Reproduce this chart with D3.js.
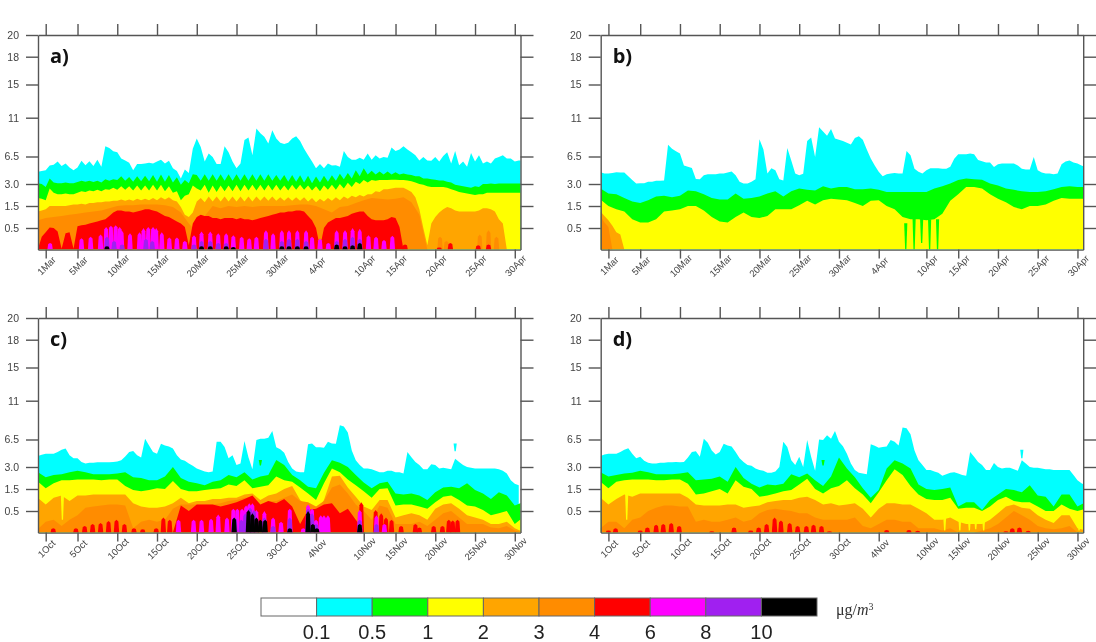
<!DOCTYPE html>
<html>
<head>
<meta charset="utf-8">
<style>
  html, body { margin: 0; background: #fff; }
  svg { display: block; filter: blur(0.35px); }
  .axis path, .axis line { stroke: #555; stroke-width: 1.4px; }
  .axis text { fill: #444; font-family: "Liberation Sans", sans-serif; }
</style>
<script src="https://cdn.jsdelivr.net/npm/d3@7"></script>
</head>
<body>
<div id="chart"></div>
<script>
// heights in km, day 0 is the first of the month, every array starts at day -1 unless noted
var heightTicks = [0.5, 1.5, 3, 6.5, 11, 15, 18, 20];
var heightLabels = ["0.5", "1.5", "3.0", "6.5", "11", "15", "18", "20"];
var tickDays = [0, 4, 9, 14, 19, 24, 29, 34, 40, 44, 49, 54, 59];
var springLabels = ["1Mar", "5Mar", "10Mar", "15Mar", "20Mar", "25Mar", "30Mar", "4Apr", "10Apr", "15Apr", "20Apr", "25Apr", "30Apr"];
var autumnLabels = ["1Oct", "5Oct", "10Oct", "15Oct", "20Oct", "25Oct", "30Oct", "4Nov", "10Nov", "15Nov", "20Nov", "25Nov", "30Nov"];
var levelColors = ["#ffffff", "#00ffff", "#00ff00", "#ffff00", "#ffa500", "#ff8c00", "#ff0000", "#ff00ff", "#a020f0", "#000000"];
var levelLabels = ["0.1", "0.5", "1", "2", "3", "4", "6", "8", "10"];

// panel a, half day steps
var aCyan = [4.55,4.65,4.75,5.35,5.45,5.85,5.3,5.6,5.1,4.75,5.1,5.95,5.4,5.9,5.3,6.1,5.2,7.7,7.5,7.1,7,6.25,6,5.7,4.75,5.55,5.55,5.6,5.7,5.6,5.85,6.1,5.6,5.95,5,4.65,3.7,4.85,4.4,7.4,8.6,7.6,5.85,6.85,6.45,5.55,5.55,7.7,7,5.85,5,5.6,8.4,8.7,6.65,9.75,9.2,8.8,8,9.55,8.6,8.1,7.95,8.1,8.6,8.85,8.3,7.4,6.65,5.85,5,5.55,5,5.6,5.35,5.4,5.2,7.15,6.45,6.1,6.1,6.35,6.1,6.85,6.1,6.65,6.25,6.45,6.35,7.55,7.15,7.3,7.7,7.3,7,6.65,6,6.45,6,5.95,6.45,5.85,6.55,7,5.6,7.15,5.4,5.85,5.2,6.9,5.85,6.65,5.6,5.85,5.6,6.25,6.45,6.65,6.25,6.25,5.85,6,6];
var aGreen = [3.1,3,2.8,3.7,3.2,3.1,3.1,3.2,3.1,3.1,3.25,3.4,3.3,3.4,3.25,3.4,3.2,3.6,3.4,3.6,3.5,4,3.4,3.9,3.3,4,3.35,4.05,3.35,4.15,3.3,4.2,3.3,4.15,3.2,3.85,2.95,3.5,3.1,4.25,4.15,3.4,4.25,3.4,4.25,3.4,4.25,3.4,4.25,3.4,4.25,3.4,4.25,3.4,4.25,3.4,4.25,3.4,4.25,3.4,4.15,3.4,4.15,3.3,4.15,3.3,4.1,3.2,4.05,3.1,3.95,3.2,4.05,3.3,4.1,3.4,4.3,3.6,4.4,3.7,4.75,4,5,4.2,4.7,4.2,4.6,4.2,4.6,4.2,4.5,4.2,4.35,4.2,4.15,4,4,3.7,3.7,3.6,3.55,3.45,3.45,3.3,3.2,2.95,2.9,2.85,2.8,2.75,2.85,2.8,3,3,3.05,3,3.05,3.05,3.05,3.05,3.05,3.05,3.05];
var aYellow = [2.05,2,1.9,2.7,2.4,2.3,2.3,2.35,2.3,2.3,2.4,2.5,2.45,2.55,2.5,2.6,2.5,2.65,2.6,2.75,2.6,2.85,2.6,2.85,2.55,2.9,2.55,2.9,2.55,2.95,2.55,2.95,2.5,2.85,2.4,2.5,1.9,2.2,2.3,2.9,2.7,2.55,2.95,2.4,2.9,2.45,2.9,2.5,2.9,2.5,2.95,2.5,2.95,2.55,2.95,2.55,2.95,2.55,2.95,2.55,2.95,2.55,2.9,2.55,2.95,2.6,2.95,2.6,2.9,2.55,2.85,2.5,2.9,2.6,2.95,2.6,3,2.7,3.15,2.8,3.3,3,3.5,3.2,3.5,3.4,3.5,3.5,3.5,3.55,3.55,3.5,3.5,3.45,3.35,3.2,3,2.95,2.85,2.8,2.8,2.8,2.8,2.75,2.65,2.55,2.45,2.4,2.35,2.3,2.25,2.3,2.3,2.4,2.4,2.4,2.4,2.4,2.4,2.4,2.4,2.4,2.4];
var aOrange = [1.25,1.3,1.35,1.5,1.5,1.5,1.5,1.5,1.55,1.6,1.6,1.65,1.6,1.7,1.7,1.75,1.75,1.8,1.8,1.85,1.85,1.95,1.85,1.95,1.85,2,1.9,2,1.9,2.05,1.9,2.1,1.95,2.1,1.9,1.8,1.45,1.1,1,1.2,1.8,2.05,1.75,2.15,1.8,2.15,1.8,2.15,1.8,2.15,1.8,2.15,1.8,2.15,1.8,2.15,1.85,2.15,1.85,2.15,1.85,2.1,1.85,2.1,1.85,2.1,1.85,2.1,1.8,2.05,1.75,2,1.8,2.05,1.85,2.1,1.9,2.15,2,2.2,2.1,2.25,2.15,2.3,2.3,2.5,2.45,2.65,2.65,2.7,2.75,2.75,2.75,2.6,2.45,2.1,1.35,0.5,0.1,0.7,1,1.2,1.35,1.45,1.4,1.3,1.25,1.25,1.25,1.25,1.25,1.3,1.4,1.4,1.35,1.25,0.9,0.7,0];
// whole day steps
var aDarkOrange = [0.85,0.95,1,1.05,1.1,1.15,1.2,1.25,1.3,1.4,1.5,1.55,1.55,1.6,1.6,1.6,1.55,1.45,1.2,0.7,0.4,1.05,1.5,1.4,1.5,1.45,1.5,1.45,1.5,1.5,1.5,1.5,1.55,1.6,1.6,1.5,1.35,1.2,1.45,1.5,1.7,1.9,2.05,2,1.95,2,2.1,1.75,1.1,0];
// half day steps
var aRed = [0,0.3,0.4,0.52,0.5,0.42,0.02,0.38,0.4,0.02,0.58,0.62,0.65,0.7,0.75,0.8,0.85,0.9,1.05,1.2,1.3,1.3,1.25,1.25,1.2,1.25,1.3,1.35,1.35,1.3,1.25,1.15,1.05,1,0.9,0.8,0.7,0.55,0.1,0.7,1,1.1,1.05,1.05,0.95,0.95,0.9,0.95,0.95,0.95,0.9,0.95,0.9,0.9,0.85,0.9,0.95,1,1.05,1.1,1.15,1.2,1.2,1.25,1.25,1.3,1.3,1.25,1.05,0.85,0.5,0.05,0.5,0.75,0.85,0.95,0.95,1,1.05,1.15,1.2,1.25,1.25,1.05,0.9,0.85,0.85,0.85,0.9,1,0.95,0.55,0];
var aDarkOrangeDays = [49.6, 50.4, 54.6, 55.7, 56.7];
var aDarkOrangeTops = [0.3, 0.2, 0.35, 0.45, 0.3];
var aRedDays = [45.2, 49.5, 50.9, 54.4, 55.7];
var aRedTops = [0.12, 0.05, 0.15, 0.1, 0.12];
var aMagentaDays = [0.55,4.5,5.65,6.9,7.6,8.2,8.8,9.3,9.55,10.6,11.8,12.3,12.9,13.5,13.9,14.6,15.55,16.5,17.5,18.65,19.6,20.7,21.7,22.7,23.6,24.65,25.6,26.5,27.7,28.6,29.7,30.6,31.65,32.75,33.5,34.5,35.55,36.6,37.65,38.6,39.5,40.6,41.55,42.55,43.6];
var aMagentaTops = [0.15,0.26,0.3,0.35,0.55,0.6,0.62,0.55,0.45,0.38,0.4,0.5,0.55,0.55,0.5,0.4,0.28,0.28,0.2,0.33,0.42,0.42,0.38,0.38,0.33,0.3,0.26,0.3,0.45,0.38,0.45,0.45,0.45,0.45,0.3,0.25,0.15,0.45,0.45,0.5,0.48,0.33,0.3,0.22,0.32];
var aPurpleDays = [7.7,8.6,9.6,12.6,13.4,18.65,19.6,20.7,21.7,22.7,27.7,29.7,30.6,31.65,32.75,36.6,37.65,38.6,39.5];
var aPurpleTops = [0.3,0.2,0.12,0.25,0.2,0.12,0.2,0.2,0.15,0.15,0.25,0.2,0.25,0.25,0.2,0.2,0.25,0.3,0.25];
var aBlackDays = [7.7,19.6,20.7,22.7,23.6,29.7,30.6,31.65,32.75,36.6,37.65,38.6,39.5];
var aBlackTops = [0.08,0.08,0.08,0.08,0.06,0.08,0.08,0.08,0.08,0.12,0.08,0.1,0.15];

// panel b
var bCyan = [4.5,4.35,4.35,4.4,4.5,4.45,4.45,4,3.5,3.05,3.1,3.1,3.3,3.3,3.4,3.4,3.45,7.85,7.4,7.1,6.85,5.35,5.2,5.05,3.65,3.6,4.1,4.25,4.25,4.25,4.35,4.35,4.45,4.6,4.1,3.3,3.05,3.05,3.3,3.6,8.5,7.3,4.35,5,4.75,3.6,3.45,7.5,6,4.35,4.1,4.3,8.3,8.7,6.45,9.9,9.4,8.9,9.7,8.6,8.45,8.3,8.1,7.9,8.65,8.85,8.45,7.3,6.25,5.35,4.55,4,4.25,4.35,4.4,4.35,4.35,7.15,6.65,4.95,4.55,4.35,4.75,5,5,5,4.95,4.95,5.2,6.2,6.75,6.75,6.75,6.85,6.75,6.05,5.9,5.75,5.75,5.15,5.5,5.6,5.6,5.6,5.6,5.35,4.95,4.85,4.85,6.45,4.75,4.45,4.35,4.35,4.25,4.35,5.5,5.85,6,5.75,5.6,5.35,5.15];
var bGreen = [2.7,2.35,2.3,2.05,1.8,1.7,1.9,2.15,2.2,2.1,2.2,2.55,2.5,2.3,2.05,1.95,1.95,2.35,2,2.05,2.15,2.35,2.5,2.15,2.5,2.7,2.6,2.55,2.85,2.7,2.8,2.8,2.65,2.65,2.7,2.6,2.45,2.45,2.45,2.45,2.45,2.45,2.7,2.85,3.05,3.5,3.7,3.6,3.55,3.05,2.9,2.7,2.6,2.5,2.45,2.45,2.5,2.65,2.8,2.85,2.8,2.8];
var bYellow = [1.95,1.5,1.35,1.25,0.9,0.75,0.75,0.9,1.25,1.3,1.35,1.5,1.5,1.3,1,0.8,0.75,1,1.2,1,0.95,1.05,1.35,1.35,1.35,1.55,1.85,1.6,1.9,2,1.95,1.9,1.7,1.5,1.85,1.9,1.5,1.35,1,0.9,0.9,0.85,0.9,1.15,1.85,2.3,2.8,2.8,2.7,2.3,2,1.75,1.45,1.35,1.5,1.5,1.6,1.85,2.05,2,2,2];
var bOrange = [1.25,1.05,0.85,0.6,0.4,0.35,0];
var bDarkOrange = [1.05,0.75,0.55,0];
var bStreakDays = [37.4, 38.45, 39.4, 40.4, 41.4];
var bStreakBases = [0, 0, 0.15, 0, 0];
var bStreakTops = [0.72, 0.95, 0.95, 0.9, 0.9];

// panel c
var cCyan = [4.4,4.55,4.7,4.7,4.7,4.9,5.2,5.35,4.5,4.1,4.1,3.65,3.45,3.55,3.55,3.6,3.6,3.6,3.6,3.65,3.7,3.85,4.35,4.9,5.05,4.5,4.2,6.6,5.75,4.9,4.7,5.95,5.75,5.6,5.35,4.5,3.95,3.8,3.45,3.15,2.9,2.8,2.7,2.65,2.7,6.2,6.2,5.55,4.1,4.5,3.25,3.45,6.3,4.25,2.85,6.45,6.6,6.6,6.7,7.5,5.5,5.25,4.8,3.65,2.9,2.7,2.65,2.65,5.9,6,5.5,5.5,5.45,6.2,6,5.95,8.15,8,7.3,5.1,3.85,3.25,2.9,2.9,2.85,2.75,2.65,2.65,2.75,2.75,2.65,2.65,2.55,4.9,4.25,3.65,3.25,2.85,2.85,3.35,3.25,2.9,2.95,2.9,2.85,4.05,3.65,3.25,3,2.95,2.9,2.9,2.9,2.9,2.9,2.9,2.85,2.75,2.55,2.1,1.85,1.75];
var cGreen = [2.65,2.3,2.45,2.5,2.65,2.75,2.65,2.5,2.5,2.5,2.55,2.65,2.3,2.25,2.1,2.1,2.35,3,2.25,2,1.9,1.75,2,2.1,2.45,2.3,2.65,2.15,2.35,2.45,3.9,3.25,2.45,2.1,1.65,1.55,2.6,3.85,3.55,3,2.45,1.95,1.55,1.9,2,1.3,1.25,1.3,1.2,1,1.35,1.6,1.65,1.55,1.9,1.45,1.3,1.05,1.35,1.2,0.75,0.9];
var cYellow = [2,1.55,1.9,2.1,2.1,2.15,2.15,2.15,2.1,2.15,2.15,1.7,1.45,1.4,1.45,1.55,1.5,2.05,1.5,1.4,1.4,1.45,1.5,1.55,1.8,1.7,2.1,1.55,1.65,1.75,2.35,2.1,2,1.6,1.3,1,1.9,2.9,2.65,2.15,1.75,1.4,1.1,1.5,1.55,0.75,0.8,0.8,0.7,0.6,0.9,1.15,1.2,1,0.75,0.7,0.55,0.4,0.45,0.5,0.2,0.35];
var cOrange = [1.1,0.8,1.1,1.2,0.95,1.2,1.2,1.25,1.25,1.25,1.25,1.25,0.85,0.7,0.65,0.65,0.7,0.85,1.1,0.85,0.95,0.95,1.05,1.05,1.1,1.1,1.25,1.3,1,1.2,1.3,1.5,1.7,1,0.7,0.45,1,2.35,2.4,1.6,1.15,0.7,0.55,1,1,0.35,0.4,0.45,0.4,0.3,0.6,0.8,0.85,0.6,0.4,0.35,0.3,0.2,0.2,0.25,0.1,0.02];
var cDarkOrange = [0.08,0.25,0.3,0.15,0.3,0.4,0.65,0.7,0.75,0.8,0.8,0.75,0.1,0.25,0.3,0.25,0.3,0.6,0.8,0.8,0.8,0.8,0.8,0.85,0.95,1,1.1,1.15,0.8,0.95,0.95,1.1,1.25,0.95,0.9,0.7,0.95,1.6,1.8,1.3,0.8,0.5,0.3,0.75,0.65,0.2,0.2,0.2,0.25,0.15,0.3,0.45,0.5,0.35,0.2,0.2,0.2,0.12,0.1,0.15,0.05,0];
// red plateau, starts at day 16
var cRed = [0,0.75,0.5,0.8,0.8,0.8,0.7,0.8,0.9,1.05,1.2,0.8,0.95,0.85,1.05,0.7,0.2,0.55,0.6,0.8,0.85,0.45,0.6,0.3,0.05];
var cRedDays = [0.95,3.8,4.9,5.9,6.9,7.9,8.9,9.9,11.1,12.2,13.9,14.8,15.6,39.7,41.5,42.2,42.8,43.5,44.7,46.5,47,48.8,49.9,50.7,51.2,51.8];
var cRedTops = [0.1,0.1,0.15,0.2,0.22,0.27,0.3,0.2,0.1,0.08,0.1,0.35,0.3,0.9,0.55,0.45,0.35,0.3,0.15,0.2,0.12,0.15,0.15,0.3,0.28,0.3];
var cMagentaDays = [16.7,18.6,19.6,20.8,21.7,22.8,23.6,24.1,24.7,25.2,25.6,26,26.5,27.5,28.6,29.6,30.7,32.4,33,33.5,34,34.6,35,35.5,39.5,41.6,42.6];
var cMagentaTops = [0.3,0.3,0.3,0.32,0.42,0.35,0.6,0.6,0.6,0.75,0.85,0.85,0.55,0.5,0.35,0.25,0.6,0.1,0.8,0.6,0.3,0.4,0.4,0.4,0.55,0.4,0.2];
var cPurpleDays = [23.8,24.6,25.1,25.7,26.2,27.5,28.6,30.7,33,33.5,34,39.5,41.6];
var cPurpleTops = [0.35,0.3,0.45,0.65,0.55,0.35,0.15,0.35,0.6,0.45,0.2,0.3,0.2];
var cBlackDays = [23.7,25.5,26,26.5,27,27.6,30.7,33,33.6,34.1,39.5];
var cBlackTops = [0.35,0.55,0.45,0.35,0.3,0.3,0.1,0.5,0.2,0.1,0.2];
var cStreakDays = [2.1];
var cStreakBases = [0.3];
var cStreakTops = [1.25];

// panel d
var dCyan = [4.4,4.6,4.7,4.7,4.7,4.9,5.2,5.4,4.7,4.1,4.3,3.8,3.55,3.45,3.45,3.55,3.55,3.6,3.6,3.65,3.6,3.65,4.2,4.9,5,4.3,6.6,6.1,5.1,4.6,4.9,5.95,5.75,5.6,4.9,4.1,3.65,3.25,3.15,2.9,2.8,2.75,2.6,2.6,2.7,3,6.2,5.55,3.85,3.25,4.3,3,6.45,4.3,2.75,6.5,6.45,7,6.6,7.5,6.2,5.65,4.7,3.45,2.8,2.6,2.55,2.5,5.9,5.7,5.45,5.55,5.6,6.45,6.2,5.75,7.9,7.8,7.1,5.1,3.85,3.25,2.8,2.8,2.7,2.6,2.4,2.5,2.6,2.65,2.55,2.45,2.4,4.9,4.3,3.65,3.25,2.8,2.8,3.5,3,2.9,2.95,2.95,2.85,2.75,3.85,3.45,3,2.95,2.95,2.9,2.85,2.85,2.8,2.8,2.8,2.8,2.8,2.45,2.1,1.9,1.75];
var dGreen = [2.65,2.35,2.45,2.55,2.6,2.75,2.65,2.5,2.5,2.5,2.55,2.65,2.1,2.15,2.2,2.35,2,3,2.25,1.85,1.6,1.8,1.75,1.85,2.5,2.3,2.55,2.1,1.7,2.35,4.2,2.9,2.3,1.55,1.1,1.45,2.9,3.85,3.45,2.9,1.8,1.5,1.45,1.5,1.6,0.7,0.9,0.9,0.55,1,1.25,1.5,1.45,1.35,1.75,1.2,1.15,0.7,1.25,1.25,0.7,0.9];
var dYellow = [2,1.55,2,2.1,2.15,2.15,2.15,2.1,2.1,2.15,2.15,1.85,1.25,1.3,1.4,1.5,1.3,2.1,1.65,1.5,1.15,1.2,1.3,1.4,1.45,1.8,2.2,1.5,1.3,1.55,1.7,2.1,1.55,1.25,0.85,1.35,2.1,2.85,2.45,1.7,1.25,1.05,1,1,1.1,0.6,0.65,0.65,0.5,0.7,1,1.15,0.95,0.9,0.9,0.7,0.5,0.5,0.8,0.6,0.5,0.6];
var dOrange = [1.1,0.8,1.05,1.25,1.15,1.3,1.3,1.3,1.3,1.3,1.3,1.1,0.8,0.75,0.75,0.75,0.8,0.8,0.65,0.7,0.75,0.9,0.95,1,1,1.1,1.15,1,0.8,0.85,0.75,0.8,0.85,0.6,0.35,0.6,0.85,0.85,0.8,0.8,0.6,0.45,0.3,0.3,0.35,0.25,0.2,0.2,0.2,0.3,0.45,0.7,0.8,0.65,0.6,0.4,0.3,0.22,0.4,0.4,0.1,0.05];
var dDarkOrange = [0.1,0.25,0.25,0.1,0.3,0.35,0.5,0.65,0.75,0.75,0.7,0.7,0.25,0.3,0.25,0.25,0.3,0.35,0.25,0.3,0.45,0.55,0.6,0.55,0.5,0.45,0.45,0.35,0.3,0.3,0.3,0.3,0.35,0.15,0.1,0.2,0.3,0.3,0.25,0.25,0.1,0.1,0.1,0.05,0.1,0,0,0,0.05,0.1,0.2,0.35,0.5,0.4,0.3,0.15,0.1,0.08,0.1,0.15,0,0];
var dRedDays = [0,0.9,4,4.9,6,6.9,7.9,8.9,13,15.8,17.9,18.9,19.9,20.9,21.7,22.8,23.8,24.9,25.8,26.8,27.8,35,37.8,38.9,50,50.8,51.7,52.8];
var dRedTops = [0.05,0.1,0.05,0.12,0.18,0.2,0.22,0.15,0.03,0.12,0.05,0.12,0.2,0.35,0.28,0.22,0.15,0.15,0.18,0.15,0.03,0.06,0.06,0.04,0.03,0.1,0.12,0.04];
var dStreakDays = [2.3, 42.3, 44.2, 45.4, 46.2, 47.2, 59.2];
var dStreakBases = [0.3, 0.05, 0.05, 0.05, 0.08, 0.05, 0.05];
var dStreakTops = [1.3, 0.4, 0.4, 0.35, 0.35, 0.35, 0.4];

var W = 1096, H = 642;
var plotW = 482.5, plotH = 214.6;

var panels = [
  { label: "a)", left: 38, top: 35, dates: springLabels,
    layers: [[1, aCyan, 0.5], [2, aGreen, 0.5], [3, aYellow, 0.5], [4, aOrange, 0.5], [5, aDarkOrange, 1], [6, aRed, 0.5]],
    towers: [[5, aDarkOrangeDays, aDarkOrangeTops], [6, aRedDays, aRedTops], [7, aMagentaDays, aMagentaTops], [8, aPurpleDays, aPurpleTops], [9, aBlackDays, aBlackTops]],
    streaks: [] },
  { label: "b)", left: 600.7, top: 35, dates: springLabels,
    layers: [[1, bCyan, 0.5], [2, bGreen, 1], [3, bYellow, 1], [4, bOrange, 0.5], [5, bDarkOrange, 0.5]],
    towers: [],
    streaks: [[2, bStreakDays, bStreakBases, bStreakTops]] },
  { label: "c)", left: 38, top: 318, dates: autumnLabels,
    layers: [[1, cCyan, 0.5], [2, cGreen, 1], [3, cYellow, 1], [4, cOrange, 1], [5, cDarkOrange, 1], [6, cRed, 1, 16]],
    towers: [[6, cRedDays, cRedTops], [7, cMagentaDays, cMagentaTops], [8, cPurpleDays, cPurpleTops], [9, cBlackDays, cBlackTops]],
    streaks: [[3, cStreakDays, cStreakBases, cStreakTops], [1, [51.5], [5], [6]], [2, [27], [3.2], [3.9]]] },
  { label: "d)", left: 600.7, top: 318, dates: autumnLabels,
    layers: [[1, dCyan, 0.5], [2, dGreen, 1], [3, dYellow, 1], [4, dOrange, 1], [5, dDarkOrange, 1]],
    towers: [[6, dRedDays, dRedTops]],
    streaks: [[3, dStreakDays, dStreakBases, dStreakTops], [1, [52], [4.1], [5.2]], [2, [27], [3.2], [3.9]]] }
];

var svg = d3.select("#chart").append("svg")
  .attr("width", W)
  .attr("height", H);

// same scales for every panel, the height axis is model levels so it is piecewise
var xScale = d3.scaleLinear().domain([-0.97, 59.72]).range([0, plotW]);
var yScale = d3.scaleLinear()
  .domain([0, 0.5, 1.5, 3, 6.5, 11, 15, 18, 20])
  .range([plotH, 193, 171, 149, 121.5, 82.7, 49.5, 21.7, 0]);

var area = d3.area()
  .x(function(d) { return xScale(d[0]); })
  .y0(yScale(0))
  .y1(function(d) { return yScale(d[1]); });

var line = d3.line()
  .x(function(d) { return xScale(d[0]); })
  .y(function(d) { return yScale(d[1]); });

panels.forEach(function(p, pi) {
  var g = svg.append("g").attr("transform", "translate(" + p.left + "," + p.top + ")");

  g.append("clipPath").attr("id", "clip" + pi)
    .append("rect").attr("width", plotW).attr("height", plotH);

  var marks = g.append("g").attr("clip-path", "url(#clip" + pi + ")");

  p.layers.forEach(function(l) {
    var start = l[3] === undefined ? -1 : l[3];
    var pts = l[1].map(function(v, i) { return [start + i * l[2], v]; });
    marks.append("path").attr("d", area(pts)).attr("fill", levelColors[l[0]]);
  });

  // narrow plumes from the ground
  p.towers.forEach(function(t) {
    t[1].forEach(function(day, i) {
      var h = t[2][i], w = 0.34;
      var pts = [[day - w, 0], [day - w * 0.7, h * 0.85], [day, h], [day + w * 0.7, h * 0.85], [day + w, 0]];
      marks.append("path").attr("d", area(pts)).attr("fill", levelColors[t[0]]);
    });
  });

  // thin wedges of a lower level cutting through, or detached bits
  p.streaks.forEach(function(s) {
    s[1].forEach(function(day, i) {
      var w = 0.2, foot = 0.08;
      var pts = [[day - foot, s[2][i]], [day - w, s[3][i]], [day + w, s[3][i]], [day + foot, s[2][i]]];
      marks.append("path").attr("d", line(pts)).attr("fill", levelColors[s[0]]);
    });
  });

  // axes
  var labelOf = function(d, i) { return p.dates[i]; };
  var bottom = g.append("g").attr("class", "axis")
    .attr("transform", "translate(0," + plotH + ")")
    .call(d3.axisBottom(xScale).tickValues(tickDays).tickFormat(labelOf).tickSize(9).tickSizeOuter(0));
  bottom.selectAll("text")
    .style("font-size", "9.5px")
    .attr("text-anchor", "middle")
    .attr("dy", 0)
    .attr("y", 0)
    .attr("transform", function() { return "translate(2.7,18.5) rotate(-45)"; });

  g.append("g").attr("class", "axis")
    .call(d3.axisTop(xScale).tickValues(tickDays).tickFormat("").tickSize(11).tickSizeOuter(0));

  g.append("g").attr("class", "axis")
    .call(d3.axisLeft(yScale).tickValues(heightTicks)
      .tickFormat(function(d, i) { return heightLabels[i]; }).tickSize(12).tickSizeOuter(0))
    .selectAll("text").style("font-size", "10.5px").attr("x", -19);

  g.append("g").attr("class", "axis")
    .attr("transform", "translate(" + plotW + ",0)")
    .call(d3.axisRight(yScale).tickValues(heightTicks).tickFormat("").tickSize(13).tickSizeOuter(0));

  g.append("text")
    .attr("x", 12)
    .attr("y", 28)
    .attr("font-family", "'Open Sans', sans-serif")
    .attr("font-weight", 700)
    .attr("font-size", 20)
    .attr("fill", "#111")
    .text(p.label);
});

// colour bar
var barX = d3.scaleLinear().domain([0, levelColors.length]).range([261, 817]);
var bar = svg.append("g");

bar.selectAll("rect")
  .data(levelColors)
  .enter()
  .append("rect")
  .attr("x", function(d, i) { return barX(i); })
  .attr("y", 598)
  .attr("width", barX(1) - barX(0))
  .attr("height", 18)
  .attr("fill", function(d) { return d; })
  .attr("stroke", "#666")
  .attr("stroke-width", 1);

bar.selectAll("text")
  .data(levelLabels)
  .enter()
  .append("text")
  .attr("x", function(d, i) { return barX(i + 1); })
  .attr("y", 639)
  .attr("text-anchor", "middle")
  .attr("font-family", "'Liberation Sans', sans-serif")
  .attr("font-size", 20)
  .attr("fill", "#222")
  .text(function(d) { return d; });

var unit = svg.append("text")
  .attr("x", 836)
  .attr("y", 615)
  .attr("font-family", "'Liberation Serif', serif")
  .attr("font-size", 16)
  .attr("fill", "#333");
unit.append("tspan").text("μg/");
unit.append("tspan").attr("font-style", "italic").text("m");
unit.append("tspan").attr("font-size", 10).attr("dy", -5).text("3");
</script>
</body>
</html>
